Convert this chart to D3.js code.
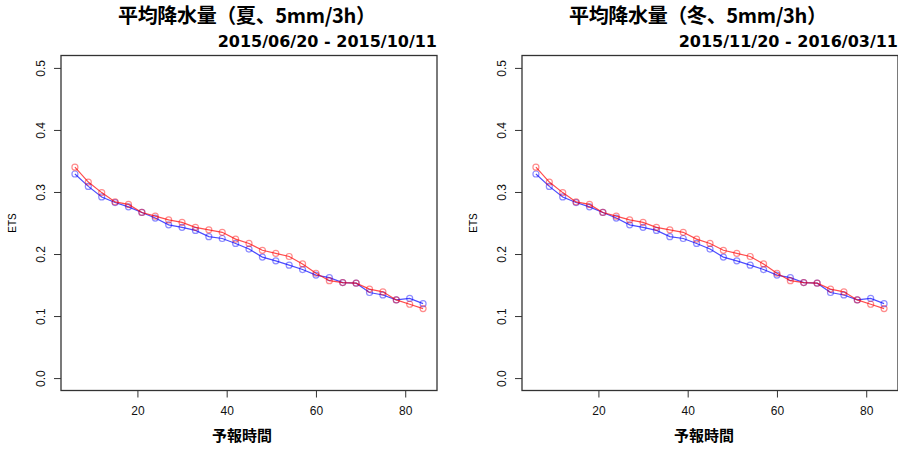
<!DOCTYPE html>
<html>
<head>
<meta charset="utf-8">
<script src="https://cdn.jsdelivr.net/npm/d3@7"></script>
<style>
  body { margin: 0; background: #fff; }
  svg { display: block; }
</style>
</head>
<body>
<svg id="chart" width="898" height="450"></svg>
<script>
/* data */
var leadTimes = [6, 9, 12, 15, 18, 21, 24, 27, 30, 33, 36, 39, 42, 45, 48, 51, 54, 57, 60, 63, 66, 69, 72, 75, 78, 81, 84];

var summerRed  = [0.340, 0.316, 0.299, 0.284, 0.280, 0.267, 0.261, 0.255, 0.251, 0.243, 0.239, 0.235, 0.224, 0.217, 0.206, 0.201, 0.196, 0.184, 0.169, 0.157, 0.154, 0.153, 0.1435, 0.139, 0.126, 0.119, 0.112];
var summerBlue = [0.329, 0.309, 0.292, 0.283, 0.276, 0.267, 0.258, 0.247, 0.243, 0.238, 0.228, 0.225, 0.217, 0.208, 0.195, 0.189, 0.182, 0.175, 0.166, 0.162, 0.154, 0.153, 0.138, 0.134, 0.126, 0.1285, 0.120];

var winterRed  = [0.340, 0.316, 0.299, 0.284, 0.280, 0.267, 0.261, 0.255, 0.251, 0.243, 0.239, 0.235, 0.224, 0.217, 0.206, 0.201, 0.196, 0.184, 0.169, 0.157, 0.154, 0.153, 0.1435, 0.139, 0.126, 0.119, 0.112];
var winterBlue = [0.329, 0.309, 0.292, 0.283, 0.276, 0.267, 0.258, 0.247, 0.243, 0.238, 0.228, 0.225, 0.217, 0.208, 0.195, 0.189, 0.182, 0.175, 0.166, 0.162, 0.154, 0.153, 0.138, 0.134, 0.126, 0.1285, 0.120];

var xTicks = [20, 40, 60, 80];
var yTicks = [0.0, 0.1, 0.2, 0.3, 0.4, 0.5];

var titles = ["平均降水量（夏、5mm/3h）", "平均降水量（冬、5mm/3h）"];
var periods = ["2015/06/20 - 2015/10/11", "2015/11/20 - 2016/03/11"];
var xTitle = "予報時間";
var yTitle = "ETS";
/* end data */

var panels = [
  { ox: 0,   titleX: 247, xTitleX: 242, red: summerRed, blue: summerBlue, title: titles[0], period: periods[0] },
  { ox: 461, titleX: 698, xTitleX: 704, red: winterRed, blue: winterBlue, title: titles[1], period: periods[1] }
];

var svg = d3.select("#chart");
var box = { left: 61, right: 437, top: 55.5, bottom: 390.5 };

// R style 4% extension of the data range
var xExt = d3.extent(leadTimes), xPad = (xExt[1] - xExt[0]) * 0.04;
var yPad = 0.5 * 0.04;

panels.forEach(function(p) {
  var g = svg.append("g").attr("transform", "translate(" + p.ox + ",0)");

  var xScale = d3.scaleLinear()
    .domain([xExt[0] - xPad, xExt[1] + xPad])
    .range([box.left, box.right]);
  var yScale = d3.scaleLinear()
    .domain([0 - yPad, 0.5 + yPad])
    .range([box.bottom, box.top]);

  /* titles */
  svg.append("text")
    .attr("x", p.titleX).attr("y", 23)
    .attr("text-anchor", "middle")
    .attr("textLength", 258)
    .attr("lengthAdjust", "spacing")
    .style("font-family", "'Noto Sans CJK JP', sans-serif")
    .style("font-weight", "bold")
    .style("font-size", "20px")
    .text(p.title);

  g.append("text")
    .attr("x", box.right).attr("y", 47)
    .attr("text-anchor", "end")
    .style("font-family", "'DejaVu Sans', sans-serif")
    .style("font-weight", "bold")
    .style("font-size", "16px")
    .text(p.period);

  /* axes */
  var xAxis = d3.axisBottom(xScale).tickValues(xTicks).tickSize(7).tickPadding(9).tickFormat(d3.format("d"));
  var yAxis = d3.axisLeft(yScale).tickValues(yTicks).tickSize(7).tickFormat(d3.format(".1f"));

  var xg = g.append("g").attr("transform", "translate(0," + box.bottom + ")").call(xAxis);
  xg.select(".domain").remove();
  var yg = g.append("g").attr("transform", "translate(" + box.left + ",0)").call(yAxis);
  yg.select(".domain").remove();

  [xg, yg].forEach(function(a) {
    a.selectAll(".tick line").attr("stroke", "#333");
    a.selectAll("text")
      .style("font-family", "'Liberation Sans', Arial, sans-serif")
      .style("font-size", "12px")
      .attr("fill", "#111");
  });

  yg.selectAll(".tick text")
    .attr("x", null).attr("dy", null)
    .attr("text-anchor", "middle")
    .attr("transform", "translate(-16,0) rotate(-90)");

  g.append("rect")
    .attr("x", box.left).attr("y", box.top)
    .attr("width", box.right - box.left).attr("height", box.bottom - box.top)
    .attr("fill", "none").attr("stroke", "#333").attr("stroke-width", 1.3);

  g.append("text")
    .attr("transform", "translate(16," + ((box.top + box.bottom) / 2) + ") rotate(-90)")
    .attr("text-anchor", "middle")
    .style("font-family", "'Liberation Sans', Arial, sans-serif")
    .style("font-size", "10px")
    .text(yTitle);

  svg.append("text")
    .attr("x", p.xTitleX).attr("y", 441)
    .attr("text-anchor", "middle")
    .style("font-family", "'Noto Sans CJK JP', sans-serif")
    .style("font-weight", "bold")
    .style("font-size", "15px")
    .text(xTitle);

  /* series */
  var series = [
    { values: p.blue, color: "#0000ff" },
    { values: p.red, color: "#ff0000" }
  ];

  var line = d3.line()
    .x(function(d) { return xScale(d[0]); })
    .y(function(d) { return yScale(d[1]); });

  series.forEach(function(s) {
    var pts = leadTimes.map(function(t, i) { return [t, s.values[i]]; });
    g.append("path")
      .datum(pts)
      .attr("d", line)
      .attr("fill", "none")
      .attr("stroke", s.color)
      .attr("stroke-opacity", 0.7)
      .attr("stroke-width", 1.2);
    g.selectAll(null)
      .data(pts)
      .enter().append("circle")
      .attr("cx", function(d) { return xScale(d[0]); })
      .attr("cy", function(d) { return yScale(d[1]); })
      .attr("r", 3)
      .attr("fill", "none")
      .attr("stroke", s.color)
      .attr("stroke-opacity", 0.45)
      .attr("stroke-width", 1.2);
  });
});
</script>
</body>
</html>
